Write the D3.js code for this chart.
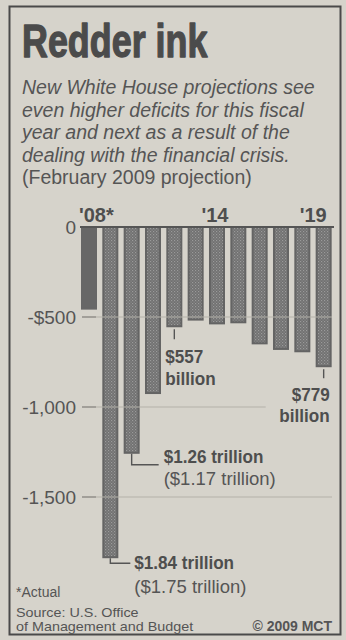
<!DOCTYPE html>
<html>
<head>
<meta charset="utf-8">
<script src="https://cdn.jsdelivr.net/npm/d3@7"></script>
<style>
  html, body { margin: 0; padding: 0; background: #d6d3cb; }
  svg { display: block; }
  text { font-family: "Liberation Sans", Arial, sans-serif; }
</style>
</head>
<body>
<svg id="chart" width="346" height="640"></svg>
<script>
// Federal deficit, fiscal years 2008-2019, billions of dollars (2008 actual, rest projected)
const years = ["2008","2009","2010","2011","2012","2013","2014","2015","2016","2017","2018","2019"];
const deficits = [-459, -1840, -1260, -928, -557, -520, -541, -535, -652, -683, -696, -779];
const actualYears = ["2008"];

const xTickYears = ["2008", "2014", "2019"];
const xTickLabels = ["'08*", "'14", "'19"];
const yTicks = [0, -500, -1000, -1500];
const yTickLabels = ["0", "-$500", "-1,000", "-1,500"];

// Callouts: bold figure plus a second line
const calloutYears = ["2009", "2010", "2012", "2019"];
const calloutMain = ["$1.84 trillion", "$1.26 trillion", "$557", "$779"];
const calloutSub = ["($1.75 trillion)", "($1.17 trillion)", "billion", "billion"];

const titleText = "Redder ink";
const subtitleLines = [
  "New White House projections see",
  "even higher deficits for this fiscal",
  "year and next as a result of the",
  "dealing with the financial crisis."
];
const noteLine = "(February 2009 projection)";
const footnote = "*Actual";
const sourceLines = ["Source: U.S. Office", "of Management and Budget"];
const credit = "\u00A9 2009 MCT";

const ink = "#4e4e4e";
const svg = d3.select("#chart");

// Paper and frame
svg.append("rect").attr("width", 346).attr("height", 640).attr("fill", "#d6d3cb");
svg.append("rect").attr("x", 9.5).attr("y", 6.5).attr("width", 331).attr("height", 628)
  .attr("fill", "none").attr("stroke", "#4a4a4a").attr("stroke-width", 2);

// Horizontally scaled text helper
function squeezed(parent, x, y, str, size, weight, sx, anchor, fill) {
  return parent.append("g").attr("transform", `translate(${x},${y}) scale(${sx},1)`)
    .append("text").attr("text-anchor", anchor || "start")
    .attr("font-size", size).attr("font-weight", weight).attr("fill", fill || ink)
    .text(str);
}

// Title
squeezed(svg, 22, 57, titleText, 46, "bold", 0.78, "start", "#4b4b4b")
  .attr("stroke", "#4b4b4b").attr("stroke-width", 1.3).attr("stroke-linejoin", "round");

// Subtitle
subtitleLines.forEach((line, i) => {
  svg.append("text").attr("x", 22).attr("y", 94 + i * 22.5)
    .attr("font-size", 19.5).attr("font-style", "italic").attr("fill", "#555")
    .text(line);
});
svg.append("text").attr("x", 22).attr("y", 94 + subtitleLines.length * 22.5)
  .attr("font-size", 19.5).attr("fill", "#555").text(noteLine);

// Scales
const x = d3.scaleBand().domain(years).range([78.33, 334.33])
  .paddingInner(0.25).paddingOuter(0.125);
const y = d3.scaleLinear().domain([0, -1500]).range([227, 497]);
const bw = x.bandwidth();

// Stipple pattern for projected years
const defs = svg.append("defs");
const pat = defs.append("pattern").attr("id", "dots").attr("patternUnits", "userSpaceOnUse")
  .attr("width", 3).attr("height", 3);
pat.append("rect").attr("width", 3).attr("height", 3).attr("fill", "#707070");
pat.append("rect").attr("x", 0).attr("y", 0).attr("width", 1.2).attr("height", 1.2).attr("fill", "#9a9a9a");
pat.append("rect").attr("x", 1.5).attr("y", 1.5).attr("width", 1.2).attr("height", 1.2).attr("fill", "#8c8c8c");

// Bars
const data = years.map((yr, i) => ({ year: yr, value: deficits[i], actual: actualYears.includes(yr) }));
svg.append("g").selectAll("rect").data(data).join("rect")
  .attr("x", d => x(d.year) + 1)
  .attr("y", y(0))
  .attr("width", bw - 2)
  .attr("height", d => y(d.value) - y(0) - 1)
  .attr("fill", d => d.actual ? "#676767" : "url(#dots)")
  .attr("stroke", d => d.actual ? "#676767" : "#646464")
  .attr("stroke-width", 2);

// Gridlines (on top of bars, pale)
const gridStart = 82, gridEnd = 332;
yTicks.filter(t => t !== 0).forEach(t => {
  const end = t === -1000 ? x("2016") + bw - 2 : gridEnd;
  svg.append("line").attr("x1", gridStart).attr("x2", end)
    .attr("y1", y(t)).attr("y2", y(t))
    .attr("stroke", "#b4b1a9").attr("stroke-width", 1.2);
  svg.append("line").attr("x1", gridStart).attr("x2", gridStart + 14)
    .attr("y1", y(t)).attr("y2", y(t))
    .attr("stroke", "#8a8884").attr("stroke-width", 1.2);
});

// Zero baseline
svg.append("line").attr("x1", 80).attr("x2", 334).attr("y1", y(0)).attr("y2", y(0))
  .attr("stroke", "#555").attr("stroke-width", 2);

// Y axis labels
const yAxis = d3.axisLeft(y).tickValues(yTicks)
  .tickFormat((d, i) => yTickLabels[i]).tickSize(0).tickPadding(0);
const gy = svg.append("g").attr("transform", "translate(76,0)").call(yAxis);
gy.select(".domain").remove();
gy.selectAll("text").attr("font-family", "'Liberation Sans', Arial, sans-serif")
  .attr("font-size", 19).attr("fill", "#555");

// Year labels above the baseline
xTickYears.forEach((yr, i) => {
  let tx, anchor;
  if (i === 0) { tx = x(yr) - 2; anchor = "start"; }
  else if (i === xTickYears.length - 1) { tx = x(yr) + bw - 5; anchor = "end"; }
  else { tx = x(yr) + bw / 2 - 2; anchor = "middle"; }
  svg.append("text").attr("x", tx).attr("y", 222).attr("text-anchor", anchor)
    .attr("font-size", 20).attr("font-weight", "bold").attr("fill", ink)
    .text(xTickLabels[i]);
});

// Callouts
const lead = svg.append("g").attr("fill", "none").attr("stroke", "#555").attr("stroke-width", 1.4);
calloutYears.forEach((yr, i) => {
  const v = deficits[years.indexOf(yr)];
  const cx = x(yr) + bw / 2;
  const bottom = y(v);
  if (i === 0) {
    // elbow leader to the right
    const ly = bottom + 5, lx = x(yr) + bw + 12;
    lead.append("path").attr("d", `M${cx},${bottom}V${ly}H${lx}`);
    squeezed(svg, x(yr) + bw + 16, bottom + 11, calloutMain[i], 19, "bold", 0.9);
    svg.append("text").attr("x", x(yr) + bw + 16).attr("y", bottom + 35)
      .attr("font-size", 18.5).attr("fill", "#555").text(calloutSub[i]);
  } else if (i === 1) {
    const ly = bottom + 11, lx = x(yr) + bw + 19;
    lead.append("path").attr("d", `M${cx},${bottom}V${ly}H${lx}`);
    squeezed(svg, x(yr) + bw + 24, bottom + 9, calloutMain[i], 19, "bold", 0.9);
    svg.append("text").attr("x", x(yr) + bw + 24).attr("y", bottom + 31)
      .attr("font-size", 18.5).attr("fill", "#555").text(calloutSub[i]);
  } else if (i === 2) {
    lead.append("line").attr("x1", cx).attr("x2", cx).attr("y1", bottom + 2).attr("y2", bottom + 12);
    squeezed(svg, x(yr) - 1, bottom + 36, calloutMain[i], 19, "bold", 0.9);
    squeezed(svg, x(yr) - 1, bottom + 58, calloutSub[i], 19, "bold", 0.9);
  } else {
    lead.append("line").attr("x1", cx).attr("x2", cx).attr("y1", bottom + 2).attr("y2", bottom + 11);
    squeezed(svg, x(yr) + bw - 2, bottom + 34, calloutMain[i], 19, "bold", 0.9, "end");
    squeezed(svg, x(yr) + bw - 2, bottom + 55, calloutSub[i], 19, "bold", 0.9, "end");
  }
});

// Footer
svg.append("text").attr("x", 16).attr("y", 597).attr("font-size", 14).attr("fill", "#555").text(footnote);
sourceLines.forEach((line, i) => {
  squeezed(svg, 16, 617 + i * 14, line, 12.6, "normal", 1.14, "start", "#555");
});
svg.append("text").attr("x", 332).attr("y", 631).attr("text-anchor", "end")
  .attr("font-size", 14).attr("font-weight", "bold").attr("fill", "#555").text(credit);
</script>
</body>
</html>
